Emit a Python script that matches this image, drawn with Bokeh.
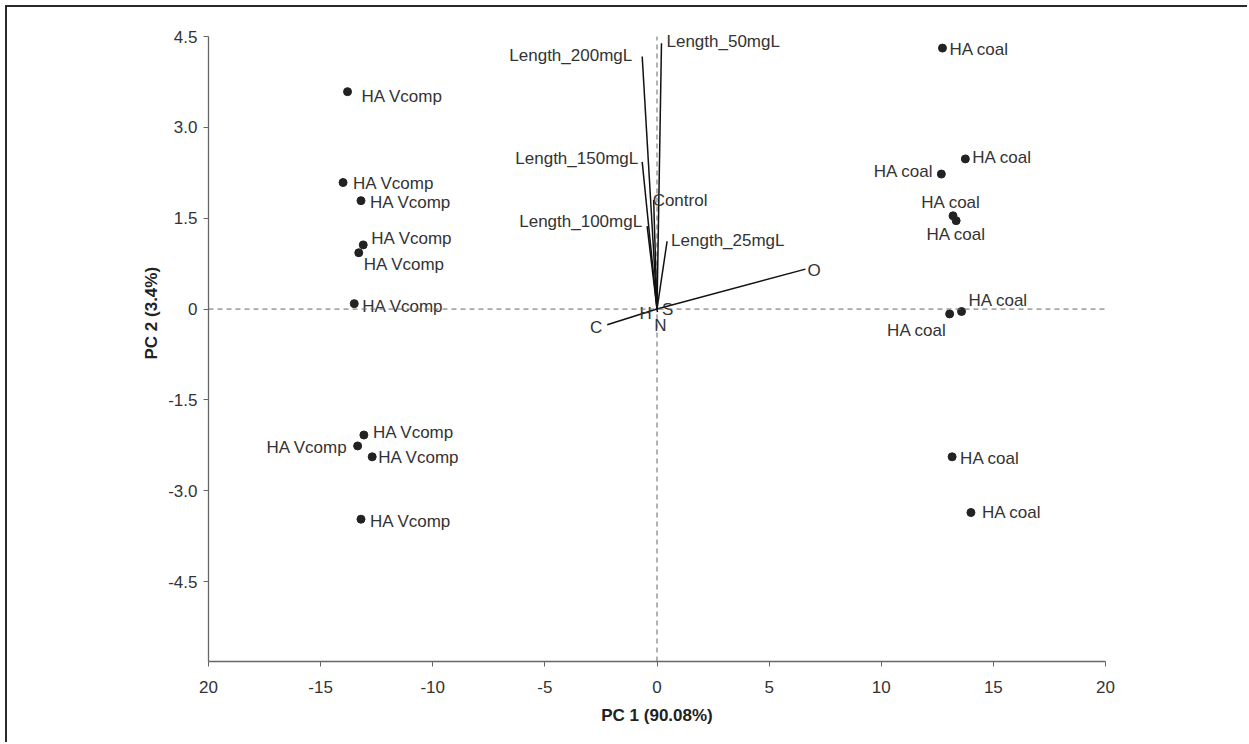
from bokeh.plotting import figure
from bokeh.models import Range1d, FixedTicker, Span, Title, ColumnDataSource
from bokeh.embed import file_html
from bokeh.resources import INLINE
from bokeh.core.properties import value

# ---- data ----
vcomp_x = [-13.8, -14.0, -13.2, -13.1, -13.3, -13.5, -13.07, -13.35, -12.7, -13.2]
vcomp_y = [3.59, 2.09, 1.79, 1.06, 0.93, 0.09, -2.08, -2.26, -2.44, -3.47]
coal_x = [12.73, 13.75, 12.68, 13.2, 13.34, 13.58, 13.05, 13.16, 14.0]
coal_y = [4.31, 2.48, 2.23, 1.54, 1.46, -0.04, -0.08, -2.44, -3.36]
var_names = ["Length_200mgL", "Length_50mgL", "Length_150mgL", "Control",
             "Length_100mgL", "Length_25mgL", "O", "C", "H", "S", "N"]
var_x = [-0.66, 0.2, -0.66, -0.15, -0.44, 0.45, 6.62, -2.22, -0.05, 0.05, 0.02]
var_y = [4.17, 4.39, 2.43, 1.80, 1.37, 1.12, 0.66, -0.26, 0.0, 0.02, -0.05]
x_ticks = [-20, -15, -10, -5, 0, 5, 10, 15, 20]
x_tick_labels = ["20", "-15", "-10", "-5", "0", "5", "10", "15", "20"]
y_ticks = [4.5, 3.0, 1.5, 0, -1.5, -3.0, -4.5]
y_tick_labels = ["4.5", "3.0", "1.5", "0", "-1.5", "-3.0", "-4.5"]
x_title = "PC 1 (90.08%)"
y_title = "PC 2 (3.4%)"
Y_MIN, Y_MAX = -5.82, 4.5

# ---- label placement (style, not data) ----
vcomp_lab = [("left", 14, 5), ("left", 10, 1), ("left", 9, 2), ("left", 8, -6),
             ("left", 5, 12), ("left", 8, 3), ("left", 9, -3), ("right", -10, 2),
             ("left", 6, 1), ("left", 9, 2)]
coal_lab = [("left", 7, 1), ("left", 7, -1), ("right", -8, -3), ("center", -2, -13),
            ("center", 0, 14), ("left", 7, -11), ("right", -3, 17), ("left", 8, 2),
            ("left", 11, 0)]
var_lab = [("right", -10, -1), ("left", 5, -2), ("right", -4, -3), ("left", -1, 0),
           ("right", -5, -5), ("left", 4, -1), ("left", 2, 1), ("right", -5, 3),
           ("right", -4, 4), ("left", 4, 2), ("center", 3, 13)]

FONT = "Liberation Sans"
FS = "17px"
INK = "#222222"

p = figure(width=1242, height=737, output_backend="svg", toolbar_location=None,
           x_range=Range1d(-20, 20), y_range=Range1d(Y_MIN, 4.65),
           min_border_left=201, min_border_right=144, min_border_top=20,
           min_border_bottom=83)
p.margin = (5, 0, 0, 5)
p.styles = {"border-top": "2px solid #2a2a2a", "border-left": "2px solid #2a2a2a"}
p.outline_line_color = None
p.xgrid.visible = False
p.ygrid.visible = False
p.background_fill_color = "white"
p.border_fill_color = "white"

for ax in (p.xaxis[0], p.yaxis[0]):
    ax.axis_line_color = "#666666"
    ax.axis_line_width = 1.3
    ax.major_tick_line_color = "#666666"
    ax.major_tick_out = 5
    ax.major_tick_in = 0
    ax.minor_tick_line_color = None
    ax.major_label_text_font = FONT
    ax.major_label_text_font_size = FS
    ax.major_label_text_color = "#333333"
p.xaxis.ticker = FixedTicker(ticks=x_ticks)
p.xaxis.major_label_overrides = {t: l for t, l in zip(x_ticks, x_tick_labels)}
p.yaxis.ticker = FixedTicker(ticks=y_ticks)
p.yaxis.major_label_overrides = {t: l for t, l in zip(y_ticks, y_tick_labels)}
p.yaxis.bounds = (Y_MIN, Y_MAX)
p.xaxis.major_label_standoff = 14
p.yaxis.major_label_standoff = 6
p.xaxis.axis_label = x_title
p.xaxis.axis_label_text_font = FONT
p.xaxis.axis_label_text_font_size = "17px"
p.xaxis.axis_label_text_font_style = "bold"
p.xaxis.axis_label_text_color = "#222222"
p.xaxis.axis_label_standoff = 10

ytitle = Title(text=y_title, align="left", offset=302, text_font=FONT,
               text_font_size="17px", text_font_style="bold",
               text_color="#222222")
p.add_layout(ytitle, "left")

# dashed reference lines
p.segment(x0=[0], y0=[Y_MIN], x1=[0], y1=[Y_MAX], line_color="#666666",
          line_dash="5 4", line_width=1)
p.add_layout(Span(location=0, dimension="width", line_color="#666666",
                  line_dash="5 4", line_width=1))

# loading vectors
p.segment(x0=[0] * len(var_x), y0=[0] * len(var_y), x1=var_x, y1=var_y,
          line_color="#111111", line_width=1.5)

# score points
p.scatter(vcomp_x, vcomp_y, size=8, color=INK)
p.scatter(coal_x, coal_y, size=8, color=INK)


def add_labels(xs, ys, texts, placement):
    src = ColumnDataSource(dict(
        x=xs, y=ys, t=texts,
        a=[pl[0] for pl in placement],
        dx=[pl[1] for pl in placement],
        dy=[pl[2] for pl in placement]))
    p.text(x="x", y="y", text="t", source=src, text_align="a",
           x_offset="dx", y_offset="dy", text_baseline="middle",
           text_font=value(FONT), text_font_size=FS, text_color="#333333")


add_labels(vcomp_x, vcomp_y, ["HA Vcomp"] * len(vcomp_x), vcomp_lab)
add_labels(coal_x, coal_y, ["HA coal"] * len(coal_x), coal_lab)
add_labels(var_x, var_y, var_names, var_lab)

open("out.html", "w").write(file_html(p, INLINE))
